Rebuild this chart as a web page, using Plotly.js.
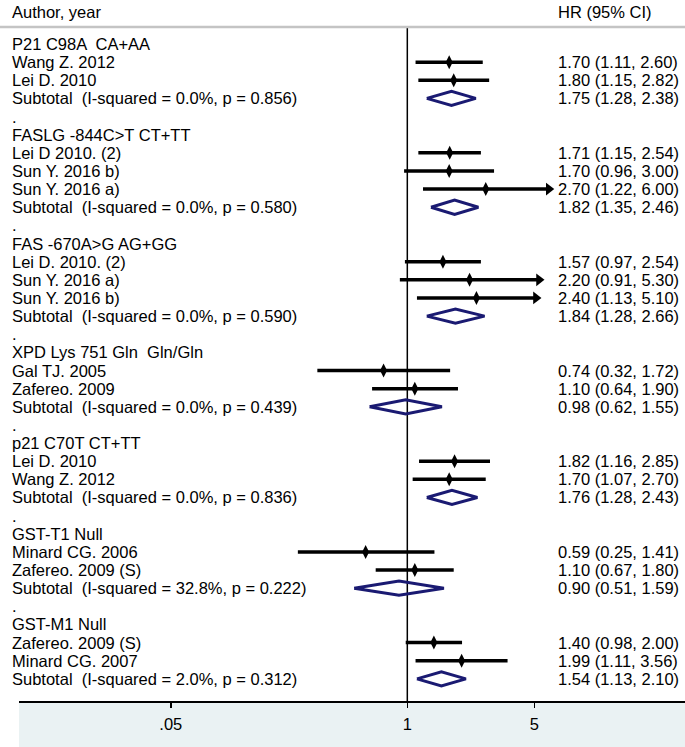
<!DOCTYPE html>
<html>
<head>
<meta charset="utf-8">
<script src="https://cdn.plot.ly/plotly-3.0.1.min.js"></script>
<style>html,body{margin:0;padding:0;background:#fff;}#chart{width:685px;height:747px;}</style>
</head>
<body>
<div id="chart"></div>
<script>
// ---------- data ----------
const groupNames = ["P21 C98A  CA+AA", "FASLG -844C>T CT+TT", "FAS -670A>G AG+GG",
  "XPD Lys 751 Gln  Gln/Gln", "p21 C70T CT+TT", "GST-T1 Null", "GST-M1 Null"];
const groupSizes = [2, 3, 3, 2, 2, 2, 2];

const studyNames = ["Wang Z. 2012", "Lei D. 2010",
  "Lei D 2010. (2)", "Sun Y. 2016 b)", "Sun Y. 2016 a)",
  "Lei D. 2010. (2)", "Sun Y. 2016 a)", "Sun Y. 2016 b)",
  "Gal TJ. 2005", "Zafereo. 2009",
  "Lei D. 2010", "Wang Z. 2012",
  "Minard CG. 2006", "Zafereo. 2009 (S)",
  "Zafereo. 2009 (S)", "Minard CG. 2007"];
const studyHR = [1.70, 1.80, 1.71, 1.70, 2.70, 1.57, 2.20, 2.40, 0.74, 1.10, 1.82, 1.70, 0.59, 1.10, 1.40, 1.99];
const studyLo = [1.11, 1.15, 1.15, 0.96, 1.22, 0.97, 0.91, 1.13, 0.32, 0.64, 1.16, 1.07, 0.25, 0.67, 0.98, 1.11];
const studyHi = [2.60, 2.82, 2.54, 3.00, 6.00, 2.54, 5.30, 5.10, 1.72, 1.90, 2.85, 2.70, 1.41, 1.80, 2.00, 3.56];

const subISq = ["0.0", "0.0", "0.0", "0.0", "0.0", "32.8", "2.0"];
const subP = ["0.856", "0.580", "0.590", "0.439", "0.836", "0.222", "0.312"];
const subHR = [1.75, 1.82, 1.84, 0.98, 1.76, 0.90, 1.54];
const subLo = [1.28, 1.35, 1.28, 0.62, 1.28, 0.51, 1.13];
const subHi = [2.38, 2.46, 2.66, 1.55, 2.43, 1.59, 2.10];

const tickVals = [0.05, 1, 5];
const tickText = [".05", "1", "5"];
const ARROW_CUTOFF = 4; // CIs beyond this are drawn with an arrow

// ---------- layout rows ----------
const FONT = "Liberation Sans, Arial, sans-serif";
const FS = 16.5;
const W = 685, H = 747, ML = 19, MR = 0, MT = 28, MB = 46;
const PW = W - ML - MR, PH = H - MT - MB;
const xPx = px => (px - ML) / PW;

const ann = [];
const ciX = [], ciY = [], ptX = [], ptY = [], arX = [], arY = [], dX = [], dY = [];
const DH = 0.39;
function leftLabel(text, r) {
  ann.push({xref: "paper", yref: "y", x: xPx(10), y: r, text: text, showarrow: false,
    xanchor: "left", yanchor: "middle", font: {family: FONT, size: FS, color: "#000"}});
}
function valLabel(hr, lo, hi, r) {
  ann.push({xref: "paper", yref: "y", x: xPx(556), y: r,
    text: hr.toFixed(2) + " (" + lo.toFixed(2) + ", " + hi.toFixed(2) + ")", showarrow: false,
    xanchor: "left", yanchor: "middle", font: {family: FONT, size: FS, color: "#000"}});
}
let r = 1, s = 0;
groupNames.forEach((g, gi) => {
  leftLabel(g, r); r++;
  for (let k = 0; k < groupSizes[gi]; k++, s++) {
    leftLabel(studyNames[s], r);
    valLabel(studyHR[s], studyLo[s], studyHi[s], r);
    ciX.push(studyLo[s], studyHi[s], null); ciY.push(r, r, null);
    ptX.push(studyHR[s]); ptY.push(r);
    if (studyHi[s] > ARROW_CUTOFF) { arX.push(studyHi[s]); arY.push(r); }
    r++;
  }
  leftLabel("Subtotal  (I-squared = " + subISq[gi] + "%, p = " + subP[gi] + ")", r);
  valLabel(subHR[gi], subLo[gi], subHi[gi], r);
  dX.push(subLo[gi], subHR[gi], subHi[gi], subHR[gi], subLo[gi], null);
  dY.push(r, r - DH, r, r + DH, r, null);
  r++;
  if (gi < groupNames.length - 1) { leftLabel(".", r); r++; }
});
const rTop = 0.118, rBot = 37.22;

ann.push({xref: "paper", yref: "paper", x: xPx(10), y: 1 + (MT - 12) / PH, text: "Author, year",
  showarrow: false, xanchor: "left", yanchor: "middle", font: {family: FONT, size: FS, color: "#000"}});
ann.push({xref: "paper", yref: "paper", x: xPx(556), y: 1 + (MT - 12) / PH, text: "HR (95% CI)",
  showarrow: false, xanchor: "left", yanchor: "middle", font: {family: FONT, size: FS, color: "#000"}});

const traces = [
  {x: [1, 1], y: [rTop, rBot], mode: "lines", line: {color: "#000", width: 1.5}, hoverinfo: "skip"},
  {x: ciX, y: ciY, mode: "lines", line: {color: "#000", width: 3.5}, hoverinfo: "skip", connectgaps: false},
  {x: ptX, y: ptY, mode: "markers", marker: {symbol: "diamond-tall", size: 10, color: "#000"}, hoverinfo: "skip"},
  {x: arX, y: arY, mode: "markers", marker: {symbol: "triangle-right", size: 11, color: "#000"}, hoverinfo: "skip"},
  {x: dX, y: dY, mode: "lines", line: {color: "#1a1a72", width: 3}, hoverinfo: "skip", connectgaps: false}
];

const layout = {
  width: W, height: H,
  margin: {l: ML, r: MR, t: MT, b: MB, pad: 0},
  paper_bgcolor: "#fff", plot_bgcolor: "rgba(0,0,0,0)",
  showlegend: false,
  font: {family: FONT, size: FS, color: "#000"},
  xaxis: {type: "log", range: [-2.136, 1.5275], tickvals: tickVals, ticktext: tickText,
    ticks: "outside", ticklen: 5, tickwidth: 1.5, tickcolor: "#000",
    showline: true, linecolor: "#000", linewidth: 1.5, showgrid: false, zeroline: false,
    tickfont: {family: FONT, size: FS, color: "#000"}, ticklabelstandoff: 3, fixedrange: true},
  yaxis: {range: [rBot, rTop], visible: false, fixedrange: true},
  shapes: [
    {type: "rect", xref: "paper", yref: "paper", x0: 0, x1: 1, y0: -MB / PH, y1: 0,
      fillcolor: "#EAF2F3", line: {width: 0}, layer: "below"},
    {type: "line", xref: "paper", yref: "paper", x0: -ML / PW, x1: 1, y0: 1 + 1 / PH, y1: 1 + 1 / PH,
      line: {color: "#c4c4c4", width: 2.5}}
  ],
  annotations: ann
};
Plotly.newPlot("chart", traces, layout, {displayModeBar: false, staticPlot: true});
</script>
</body>
</html>
